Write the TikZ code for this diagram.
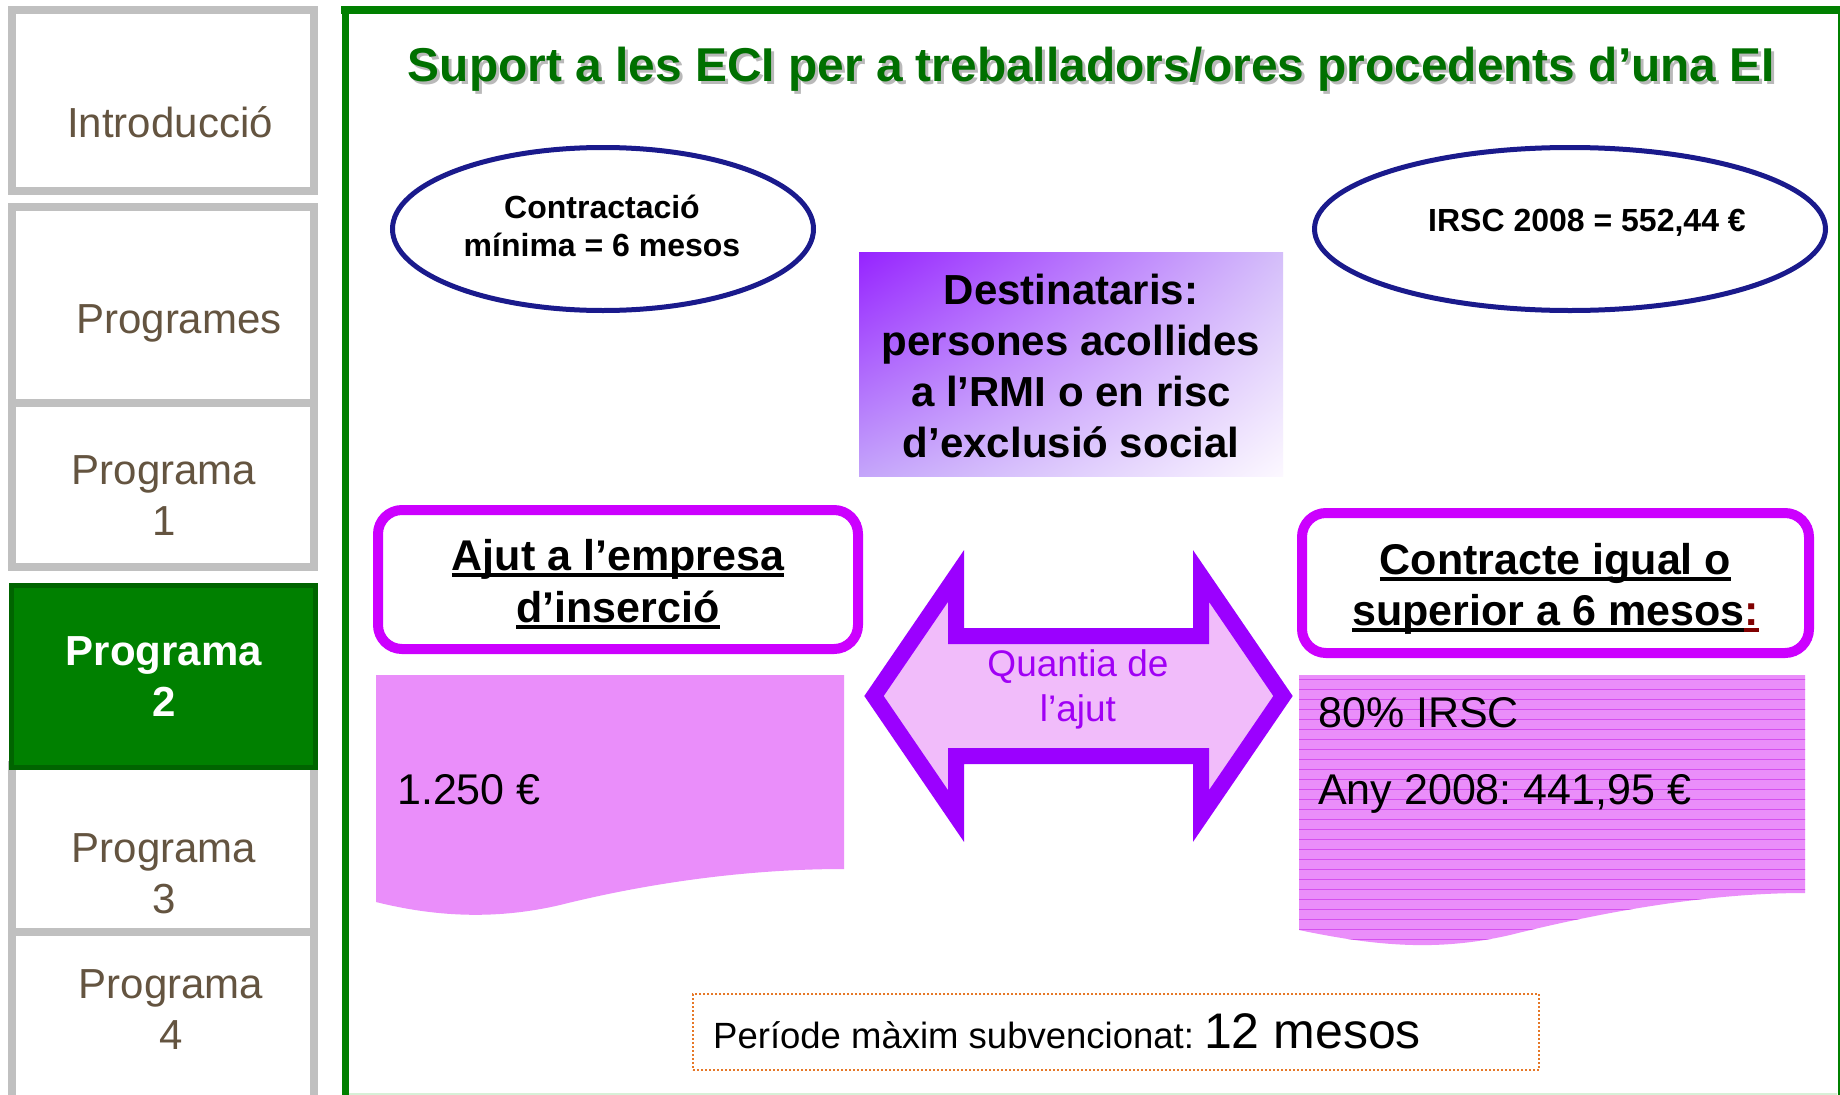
\documentclass[tikz,border=0pt]{standalone}
\usepackage{fontspec}
\usepackage{graphicx}
\setmainfont{Liberation Sans}
\usetikzlibrary{shapes.geometric,shadings}
\definecolor{sidegray}{RGB}{192,192,192}
\definecolor{txtbrown}{RGB}{100,84,64}
\definecolor{pgreen}{RGB}{0,128,0}
\definecolor{pgreendk}{RGB}{0,100,0}
\definecolor{titlegreen}{RGB}{0,112,0}
\definecolor{shadowgray}{RGB}{185,185,185}
\definecolor{lightgreen}{RGB}{215,240,215}
\definecolor{navyc}{RGB}{26,26,140}
\definecolor{magb}{RGB}{204,0,255}
\definecolor{violetA}{RGB}{155,0,255}
\definecolor{quanttext}{RGB}{160,0,245}
\definecolor{pinkfill}{RGB}{234,142,250}
\definecolor{pinkline}{RGB}{214,80,240}
\definecolor{arrowfill}{RGB}{241,188,250}
\definecolor{darkredc}{RGB}{128,0,0}
\definecolor{dotorange}{RGB}{230,120,40}
\definecolor{destA}{RGB}{150,35,255}
\definecolor{destB}{RGB}{212,190,250}
\definecolor{destC}{RGB}{196,165,250}
\definecolor{destD}{RGB}{252,248,255}
\newcommand\myul[1]{\setbox0=\hbox{#1}\rlap{\rule[-7pt]{\wd0}{4pt}}\box0}
\newcommand\titletext{\resizebox{1367pt}{\height}{\fontsize{47.5}{57}\selectfont\bfseries Suport a les ECI per a treballadors/ores procedents d’una EI}}
\frenchspacing
\begin{document}
\begin{tikzpicture}[x=1pt,y=-1pt,
  sidebox/.style={draw=sidegray,line width=8pt,fill=white},
  sidetext/.style={text=txtbrown,font=\fontsize{42}{51}\selectfont,align=center,inner sep=0pt},
  ovalbox/.style={ellipse,draw=navyc,line width=5pt,inner sep=0pt,minimum height=163pt},
  ovaltext/.style={font=\fontsize{32}{38}\selectfont\bfseries,align=center,inner sep=0pt},
  roundbox/.style={draw=magb,line width=10pt,rounded corners=24pt,fill=white,inner sep=0pt,minimum height=139pt},
  boxtitle/.style={font=\fontsize{43}{52}\selectfont\bfseries,inner sep=0pt,anchor=base},
  amount/.style={font=\fontsize{43}{52}\selectfont,inner sep=0pt,anchor=base west},
  arrowshape/.style={draw=violetA,fill=arrowfill,line width=16pt,line join=miter}
]
\useasboundingbox (0,0) rectangle (1840,1095);
\fill[white] (0,0) rectangle (1840,1095);

% sidebar
\draw[sidebox] (12,10) rectangle (314,191);
\draw[sidebox] (12,207) rectangle (314,403);
\draw[sidebox] (12,403) rectangle (314,567);
\draw[sidebox] (12,765) rectangle (314,932);
\draw[sidebox] (12,932) rectangle (314,1110);
\draw[draw=pgreendk,fill=pgreen,line width=5pt] (11,585) rectangle (315,767);
\node[sidetext,anchor=base] (intro) at (170,137) {Introducció};
\node[sidetext,anchor=base] (progs) at (179,333) {Programes};
\node[sidetext] (p1) at (164,495.5) {Programa\\1};
\node[sidetext,text=white,font=\fontsize{42}{51}\selectfont\bfseries] (p2) at (164,677) {Programa\\2};
\node[sidetext] (p3) at (164,874) {Programa\\3};
\node[sidetext] (p4) at (171,1010) {Programa\\4};

% main frame
\draw[pgreen,line width=8pt] (341,10) -- (1840,10);
\draw[pgreen,line width=7pt] (345,6) -- (345,1095);
\draw[pgreen,line width=2pt] (1838.5,14) -- (1838.5,1095);
\draw[lightgreen,line width=2pt] (349,1094) -- (1837,1094);

% title
\node[anchor=base,text=shadowgray,inner sep=0pt] (titleshadow) at (1094.5,84) {\titletext};
\node[anchor=base,text=titlegreen,inner sep=0pt] (title) at (1091.5,81) {\titletext};

% ellipses
\node[ovalbox,minimum width=421pt] (ellL) at (603,229) {};
\node[ovaltext] (ellLt) at (602,226) {Contractació\\mínima = 6 mesos};
\node[ovalbox,minimum width=511pt] (ellR) at (1570,229) {};
\node[ovaltext] (ellRt) at (1587,222.5) {IRSC 2008 = 552,44 €};

% destinataris
\shade[upper left=destA,upper right=destB,lower left=destC,lower right=destD] (859,252) rectangle (1283,476);
\node[font=\fontsize{42}{51}\selectfont\bfseries,align=center,inner sep=0pt] (dest) at (1071,366) {Destinataris:\\persones acollides\\a l’RMI o en risc\\d’exclusió social};

% rounded boxes
\node[roundbox,minimum width=480pt] (ajutbox) at (618,579.5) {};
\node[boxtitle] (ajut1) at (618,570) {\myul{Ajut a l’empresa}};
\node[boxtitle] (ajut2) at (618,622) {\myul{d’inserció}};
\node[roundbox,minimum width=507pt,minimum height=140pt] (contbox) at (1555.5,583) {};
\node[boxtitle] (cont1) at (1555.5,574) {\myul{Contracte igual o}};
\node[boxtitle] (cont2) at (1555.5,625) {\myul{superior a 6 mesos}\textcolor{darkredc}{\myul{:}}};

% pink document shapes
\fill[pinkfill] (376,675) -- (844,675) -- (844,869) .. controls (740,869) and (640,885) .. (560,905) .. controls (500,919) and (440,918) .. (376,902) -- cycle;
\begin{scope}
\clip (1299,675) -- (1805,675) -- (1805,893) .. controls (1700,893) and (1590,915) .. (1510,935) .. controls (1440,951) and (1380,947) .. (1299,930) -- cycle;
\fill[pinkfill] (1290,670) rectangle (1810,960);
\foreach \yy in {679,689,...,959} \draw[pinkline,line width=0.9pt] (1290,\yy) -- (1810,\yy);
\end{scope}
\node[amount] (amtL) at (397,804) {1.250 €};
\node[amount] (amtR1) at (1318,727) {80\% IRSC};
\node[amount] (amtR2) at (1318,804) {Any 2008: 441,95 €};

% double arrow
\draw[arrowshape] (874,696) -- (956,576) -- (956,636) -- (1201,636) -- (1201,576) -- (1283,696) -- (1201,816) -- (1201,756) -- (956,756) -- (956,816) -- cycle;
\node[text=quanttext,font=\fontsize{37}{45}\selectfont,align=center,inner sep=0pt] (quant) at (1078,689) {Quantia de\\l’ajut};

% bottom box
\node[draw=dotorange,line width=2pt,dash pattern=on 2pt off 2pt,minimum width=846pt,minimum height=76pt,inner sep=0pt] (period) at (1116,1032) {};
\node[anchor=base west,inner sep=0pt] (periodt) at (713,1048) {\fontsize{36.5}{44}\selectfont Període màxim subvencionat: \fontsize{50}{60}\selectfont 12 mesos};
\end{tikzpicture}
\end{document}
